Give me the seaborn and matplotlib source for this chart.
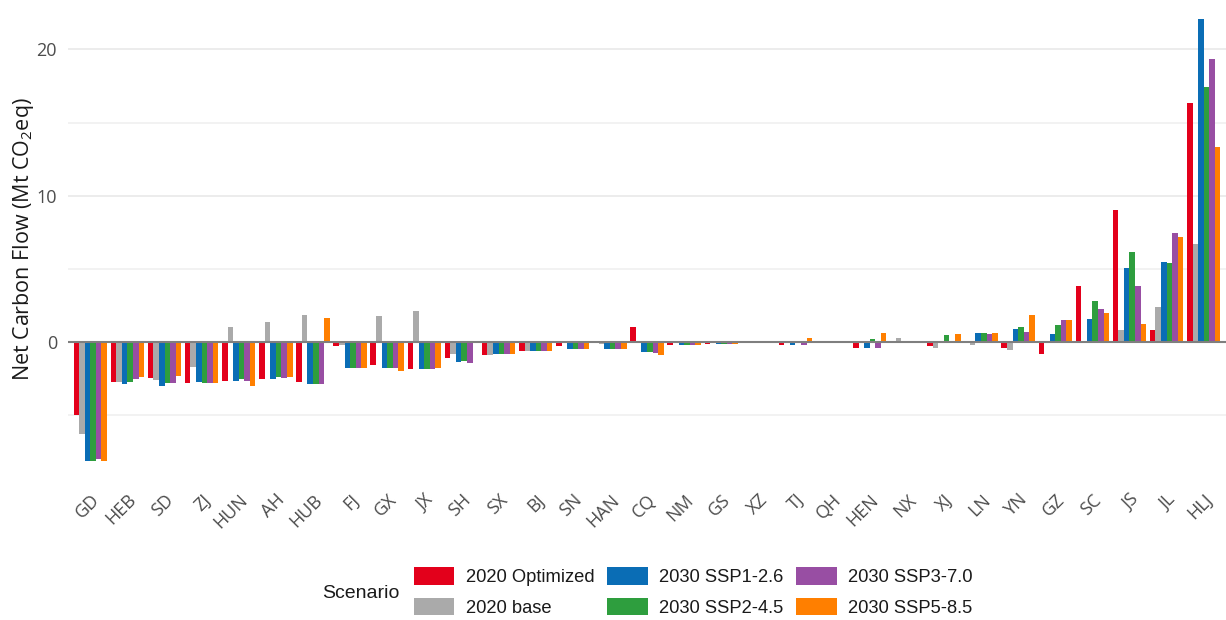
import numpy as np
import pandas as pd
import matplotlib
matplotlib.use("Agg")
import matplotlib.pyplot as plt
from matplotlib.patches import Patch
from matplotlib.ticker import FixedLocator
import seaborn as sns

# ---------- data ----------
provinces = ["GD", "HEB", "SD", "ZJ", "HUN", "AH", "HUB", "FJ", "GX", "JX", "SH",
             "SX", "BJ", "SN", "HAN", "CQ", "NM", "GS", "XZ", "TJ", "QH", "HEN",
             "NX", "XJ", "LN", "YN", "GZ", "SC", "JS", "JL", "HLJ"]

opt_2020 = [-5.0, -2.7, -2.47, -2.8, -2.67, -2.53, -2.7, -0.3, -1.6, -1.85, -1.1,
            -0.9, -0.6, -0.3, -0.1, 1.05, -0.2, -0.12, -0.08, -0.2, -0.05, -0.4,
            0.0, -0.3, -0.1, -0.43, -0.82, 3.86, 9.0, 0.82, 16.33]
base_2020 = [-6.3, -2.74, -2.58, -1.7, 1.0, 1.35, 1.85, -0.2, 1.75, 2.15, -0.8,
             -0.9, -0.6, -0.05, -0.15, -0.1, -0.03, -0.03, -0.08, -0.03, -0.1, 0.1,
             0.25, -0.4, -0.2, -0.57, 0.0, 0.0, 0.82, 2.38, 6.67]
ssp126 = [-8.1, -2.85, -3.0, -2.7, -2.65, -2.55, -2.9, -1.75, -1.8, -1.85, -1.38,
          -0.85, -0.6, -0.45, -0.48, -0.7, -0.2, -0.15, -0.05, -0.2, -0.05, -0.4,
          0.0, 0.0, 0.65, 0.87, 0.53, 1.6, 5.03, 5.45, 22.1]
ssp245 = [-8.1, -2.7, -2.8, -2.8, -2.53, -2.42, -2.9, -1.75, -1.75, -1.85, -1.3,
          -0.85, -0.6, -0.45, -0.48, -0.7, -0.2, -0.15, -0.05, -0.03, -0.05, 0.2,
          0.0, 0.45, 0.6, 1.05, 1.19, 2.78, 6.17, 5.38, 17.4]
ssp370 = [-8.0, -2.55, -2.8, -2.8, -2.65, -2.47, -2.9, -1.75, -1.75, -1.85, -1.4,
          -0.85, -0.6, -0.45, -0.48, -0.75, -0.2, -0.15, -0.05, -0.2, -0.05, -0.4,
          0.0, 0.0, 0.58, 0.68, 1.53, 2.26, 3.8, 7.43, 19.36]
ssp585 = [-8.1, -2.4, -2.33, -2.8, -3.0, -2.42, 1.65, -1.75, -1.95, -1.8, 0.0,
          -0.82, -0.6, -0.45, -0.48, -0.9, -0.2, -0.15, -0.05, 0.25, -0.05, 0.65,
          0.0, 0.55, 0.65, 1.83, 1.53, 2.0, 1.25, 7.18, 13.33]

scenarios = ["2020 Optimized", "2020 base", "2030 SSP1-2.6",
             "2030 SSP2-4.5", "2030 SSP3-7.0", "2030 SSP5-8.5"]
colors = ["#E3001B", "#AAAAAA", "#0A6DB5", "#2E9E3E", "#984EA3", "#FF7F00"]

series = [opt_2020, base_2020, ssp126, ssp245, ssp370, ssp585]
df = pd.concat([
    pd.DataFrame({"province": provinces, "value": vals, "scenario": name})
    for name, vals in zip(scenarios, series)
], ignore_index=True)

# ---------- plot ----------
sns.set_theme(style="white")
plt.rcParams["font.family"] = ["Open Sans", "DejaVu Sans"]
plt.rcParams["mathtext.fontset"] = "custom"
plt.rcParams["mathtext.rm"] = "Open Sans"

fig = plt.figure(figsize=(12.26, 6.2), dpi=100)
W, H = 1226, 620
# panel: left 68px, right edge, top slightly above image, bottom 482px
ax = fig.add_axes([68 / W, 1 - 482.5 / H, 1 - 68 / W, (482.5 + 3.3) / H])

sns.barplot(data=df, x="province", y="value", hue="scenario",
            order=provinces, hue_order=scenarios, palette=colors,
            width=0.9, saturation=1, errorbar=None, linewidth=0,
            legend=False, ax=ax)

ax.set_xlim(-0.6, len(provinces) - 0.4)
ax.set_ylim(-9.6, 23.6)
ax.set_yticks([0, 10, 20])
ax.yaxis.set_minor_locator(FixedLocator([-5, 5, 15]))
ax.grid(axis="y", which="major", color="#EBEBEB", lw=1.3)
ax.grid(axis="y", which="minor", color="#EFEFEF", lw=1.1)
ax.grid(axis="x", visible=False)
ax.set_axisbelow(True)
ax.axhline(0, color="#7F7F7F", lw=1.5, zorder=5)
for s in ax.spines.values():
    s.set_visible(False)

ax.tick_params(axis="y", which="both", length=0, pad=8, labelsize=13,
               labelcolor="#4D4D4D")
ax.tick_params(axis="x", length=0, pad=6, labelsize=13, labelcolor="#4D4D4D")
plt.setp(ax.get_xticklabels(), rotation=45, ha="right", va="top",
         rotation_mode="anchor")

ax.set_xlabel("")
ax.set_ylabel(r"Net Carbon Flow (Mt CO$_\mathrm{2}$eq)", fontsize=15.5,
              color="#1A1A1A", labelpad=0)

# legend below the panel
handles = [Patch(facecolor=c, edgecolor="none") for c in colors]
fig.legend(handles, scenarios, ncol=3, loc="center left",
           bbox_to_anchor=(414 / W, 1 - 592 / H), frameon=False,
           prop={"family": "Liberation Sans", "size": 13.25},
           handlelength=2.2, handleheight=1.1, handletextpad=0.6,
           columnspacing=0.72, labelspacing=0.6, borderpad=0,
           borderaxespad=0, labelcolor="#1A1A1A")
fig.text(322 / W, 1 - 593 / H, "Scenario", family="Liberation Sans",
         fontsize=14, color="#1A1A1A", ha="left", va="center")

fig.savefig("out.png", dpi=100)
